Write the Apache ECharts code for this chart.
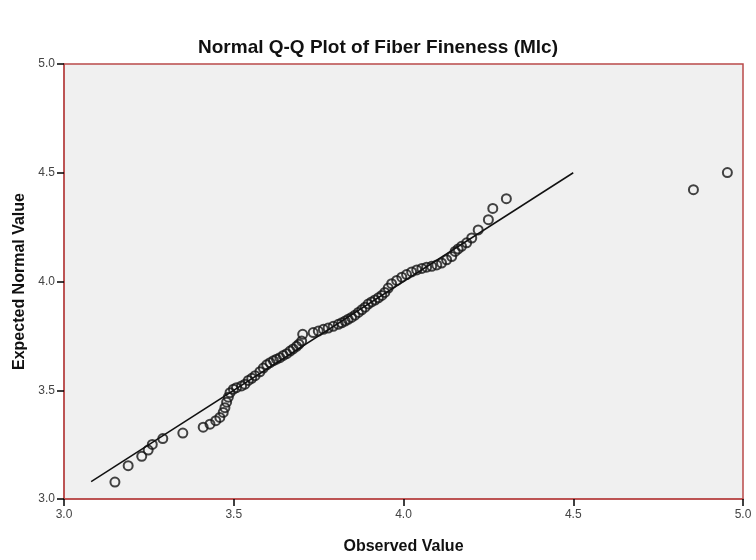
<!DOCTYPE html>
<html>
<head>
<meta charset="utf-8">
<script src="https://cdn.jsdelivr.net/npm/echarts@6/dist/echarts.min.js"></script>
<style>
  html, body { margin: 0; padding: 0; background: #fff; }
  #chart { width: 756px; height: 560px; }
</style>
</head>
<body>
<div id="chart"></div>
<script>
const observed = [
    3.150, 3.189, 3.229, 3.248, 3.260, 3.291, 3.350, 3.410, 3.430, 3.447,
    3.459, 3.469, 3.474, 3.479, 3.484, 3.489, 3.499, 3.508, 3.523, 3.533,
    3.543, 3.553, 3.563, 3.577, 3.587, 3.597, 3.607, 3.617, 3.626, 3.636,
    3.646, 3.656, 3.666, 3.675, 3.685, 3.692, 3.700, 3.703, 3.734, 3.749,
    3.764, 3.778, 3.793, 3.808, 3.818, 3.828, 3.837, 3.847, 3.857, 3.867,
    3.877, 3.887, 3.896, 3.906, 3.916, 3.926, 3.936, 3.945, 3.955, 3.965,
    3.980, 3.995, 4.009, 4.024, 4.039, 4.054, 4.068, 4.083, 4.098, 4.112,
    4.127, 4.142, 4.152, 4.161, 4.171, 4.186, 4.201, 4.220, 4.250, 4.263,
    4.303, 4.854, 4.954
];
const expected = [
    3.078, 3.153, 3.196, 3.225, 3.251, 3.278, 3.303, 3.330, 3.344, 3.360,
    3.375, 3.398, 3.420, 3.445, 3.468, 3.489, 3.505, 3.512, 3.520, 3.528,
    3.545, 3.555, 3.567, 3.585, 3.602, 3.617, 3.627, 3.636, 3.643, 3.650,
    3.660, 3.668, 3.680, 3.690, 3.702, 3.712, 3.726, 3.757, 3.765, 3.772,
    3.780, 3.786, 3.794, 3.803, 3.810, 3.818, 3.826, 3.835, 3.845, 3.858,
    3.870, 3.882, 3.896, 3.906, 3.915, 3.925, 3.936, 3.950, 3.970, 3.990,
    4.005, 4.020, 4.032, 4.044, 4.053, 4.060, 4.066, 4.070, 4.076, 4.085,
    4.100, 4.115, 4.138, 4.150, 4.162, 4.178, 4.200, 4.237, 4.284, 4.336,
    4.381, 4.422, 4.501
];
const refLine = [3.08, 4.50];
const ticks = [3.0, 3.5, 4.0, 4.5, 5.0];

const font = 'Liberation Sans, Arial, sans-serif';
const points = observed.map((x, i) => [x, expected[i]]);

function axis(name, gap, margin) {
    return {
        type: 'value',
        min: ticks[0],
        max: ticks[ticks.length - 1],
        interval: ticks[1] - ticks[0],
        name: name,
        nameLocation: 'middle',
        nameGap: gap,
        nameTextStyle: { fontFamily: font, fontSize: 16, fontWeight: 'bold', color: '#111' },
        axisLine: { show: true, lineStyle: { color: '#b94a4a', width: 1.5 } },
        axisTick: { show: true, length: 7, lineStyle: { color: '#000', width: 1.5 } },
        axisLabel: {
            margin: margin,
            fontFamily: font, fontSize: 12, color: '#444',
            formatter: v => v.toFixed(1)
        },
        splitLine: { show: false }
    };
}

const chart = echarts.init(document.getElementById('chart'));
chart.setOption({
    backgroundColor: '#fff',
    animation: false,
    title: {
        text: 'Normal Q-Q Plot of Fiber Fineness (Mlc)',
        left: 'center',
        top: 33,
        textStyle: { fontFamily: font, fontSize: 19, fontWeight: 'bold', color: '#111' }
    },
    grid: {
        left: 64, right: 13, top: 64, bottom: 60,
        show: true,
        backgroundColor: '#f0f0f0',
        borderColor: '#b94a4a',
        borderWidth: 1.5
    },
    xAxis: axis('Observed Value', 40, 10),
    yAxis: axis('Expected Normal Value', 36, 9),
    series: [
        {
            type: 'line',
            data: refLine.map(v => [v, v]),
            symbol: 'none',
            lineStyle: { color: '#111', width: 1.5 },
            silent: true
        },
        {
            type: 'scatter',
            data: points,
            symbol: 'circle',
            symbolSize: 9,
            itemStyle: { color: 'rgba(0,0,0,0)', borderColor: '#151515', borderWidth: 2 }
        }
    ]
});
</script>
</body>
</html>
